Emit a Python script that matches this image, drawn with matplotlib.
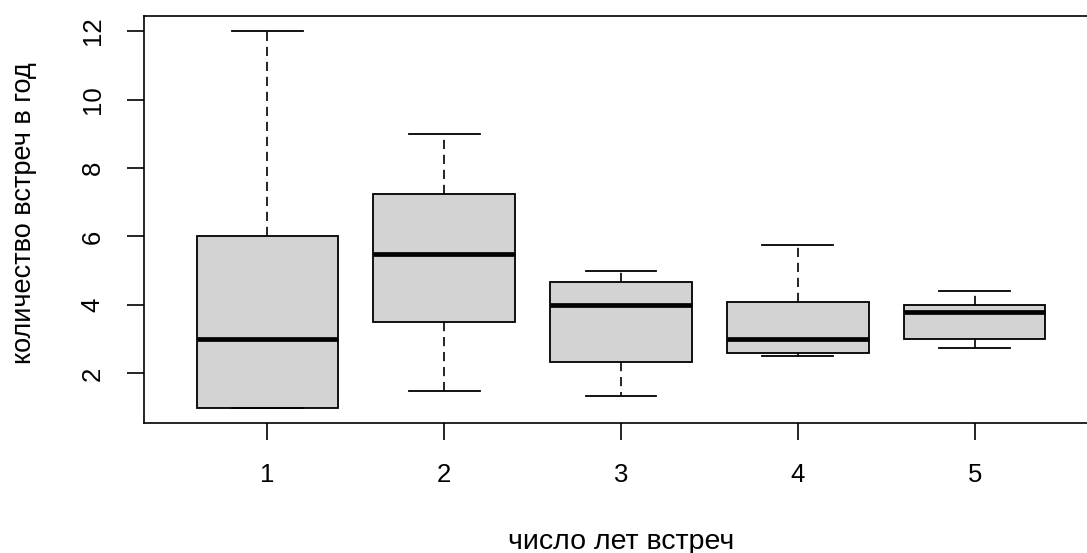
import matplotlib
matplotlib.use("Agg")
import matplotlib.pyplot as plt

categories = ["1", "2", "3", "4", "5"]
whis_low = [1.0, 1.5, 1.33, 2.5, 2.75]
q1 = [1.0, 3.5, 2.33, 2.6, 3.0]
medians = [3.0, 5.5, 4.0, 3.0, 3.8]
q3 = [6.0, 7.25, 4.67, 4.1, 4.0]
whis_high = [12.0, 9.0, 5.0, 5.75, 4.4]
y_ticks = [2, 4, 6, 8, 10, 12]

plt.rcParams['font.family'] = ['Liberation Sans', 'DejaVu Sans']

W, H = 1087, 553
fig = plt.figure(figsize=(W / 100, H / 100), dpi=100)
left, right, bottom, top = 143.5, 1098.5, 422.7, 16.0
ax = fig.add_axes([left / W, (H - bottom) / H, (right - left) / W, (bottom - top) / H])

stats = []
for i, c in enumerate(categories):
    stats.append(dict(label=c, whislo=whis_low[i], q1=q1[i], med=medians[i],
                      q3=q3[i], whishi=whis_high[i], fliers=[]))

ax.bxp(stats, positions=range(1, len(categories) + 1), widths=0.8,
       patch_artist=True, showfliers=False, capwidths=0.4,
       boxprops=dict(facecolor='#D3D3D3', edgecolor='black', linewidth=1.3),
       medianprops=dict(color='black', linewidth=3.4, solid_capstyle='butt'),
       whiskerprops=dict(color='black', linewidth=1.2, linestyle=(0, (5.5, 3.5))),
       capprops=dict(color='black', linewidth=1.3))

ax.set_xlim(0.3, 5.7)
ax.set_ylim(0.56, 12.44)
ax.set_yticks(y_ticks)
ax.set_yticklabels([str(t) for t in y_ticks], rotation=90, va='center')
for s in ax.spines.values():
    s.set_linewidth(1.2)
ax.tick_params(axis='both', length=12, width=1.2, labelsize=18.5, color='black')
ax.tick_params(axis='y', pad=16)
ax.tick_params(axis='x', pad=17)

fig.text((left + right) / 2 / W, 1 - 542 / H, "число лет встреч",
         fontsize=20.5, ha='center', va='center')
fig.text(24 / W, 1 - 213 / H, "количество встреч в год",
         fontsize=19.5, ha='center', va='center', rotation=90)

fig.savefig("out.png", dpi=100, facecolor='white')
